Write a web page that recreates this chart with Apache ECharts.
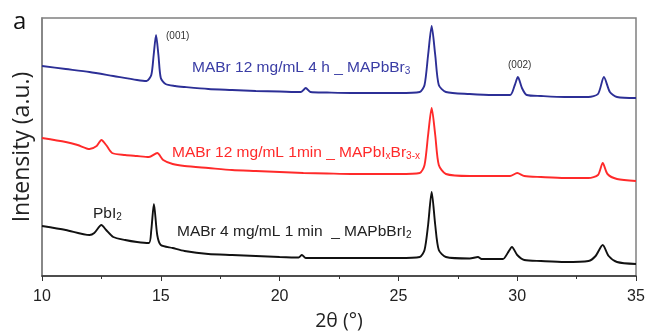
<!DOCTYPE html>
<html><head><meta charset="utf-8">
<script src="https://cdn.jsdelivr.net/npm/echarts@6/dist/echarts.min.js"></script>
<style>html,body{margin:0;padding:0;background:#fff}#c{width:651px;height:333px}</style>
</head><body><div id="c"></div>
<script>
// 2θ positions and intensities (a.u.)
var blueX = [10,11,12,13,14,14.4,14.6,14.7,14.8,14.9,15.0,15.2,15.6,16,17,18,19,20,20.9,21.1,21.3,22,23,24,25,25.9,26.1,26.25,26.4,26.55,26.7,27,28,29,29.7,29.9,30.03,30.2,30.4,31,32,33,33.4,33.65,33.9,34.2,35];
var blueY = [210,207,204,200,196,195,201,221,241,221,198,192,190,189,187,186,185,184.5,184,188,184,183.5,183,183,183,184,191,221,250,221,191,184,182,181,181,191,199,188,181,180,179,179,182,199,184,179,178];
var redX = [10,11,11.5,12,12.3,12.5,12.7,12.95,13.5,14,14.5,14.85,15.1,15.5,16,17,18,19,20,21,22,23,24,25,25.9,26.1,26.25,26.4,26.55,26.7,27,28,29,29.7,30,30.3,31,32,33,33.4,33.6,33.8,34.2,35];
var redY = [138,134,131,127,130,136,131,123,121,120,119,123,116,112,110,108,106,105,104,103,102.5,102,102,102,103,111,141,168,141,111,102,100,100,100,103,100,99,98,98,101,113,102,97,95];
var blackX = [10,11,12,12.2,12.5,12.7,13,13.5,14,14.5,14.6,14.71,14.85,15.0,15.5,16,17,18,19,20,20.8,20.94,21.1,22,23,24,25,25.9,26.1,26.25,26.4,26.55,26.7,27,28,28.35,28.5,29.4,29.6,29.78,30.0,30.3,31,32,33,33.3,33.6,33.85,34.2,35];
var blackY = [50,46,41,43,51,46,39,36,34,33,46,72,41,31,28,25,22,21,20,19,18.5,21,18,18,18,18,18,19,26,51,84,51,26,19,17.5,19,17,17,23,29,21,16,15,14,15,20,31,20,14,12];
var xTicks = [10,15,20,25,30,35];
var seriesNames = ['MABr 12 mg/mL 4 h _ MAPbBr3','MABr 12 mg/mL 1min _ MAPbIxBr3-x','MABr 4 mg/mL 1 min _ MAPbBrI2'];
var annotations = ['(001)','(002)','PbI2','a'];

function pairs(xs, ys){ return xs.map(function(x,i){ return [x, ys[i]]; }); }

var chart = echarts.init(document.getElementById('c'), null, {renderer:'canvas'});
var sans = 'Liberation Sans, Arial, sans-serif';
var open = 'Open Sans, sans-serif';
var BLUE = '#2c2f96', RED = '#ff2a2a', BLACK = '#111111';
function mkLine(name, xs, ys, color){
  return {type:'line', name:name, data:pairs(xs,ys), showSymbol:false, smooth:0.25,
    lineStyle:{color:color, width:1.9}, itemStyle:{color:color}, z:3, animation:false};
}
function rich(color){
  return {n:{fontFamily:sans, fontSize:15.5, fill:color},
          s:{fontFamily:sans, fontSize:10, fill:color, verticalAlign:'bottom', padding:[6,0,0,0]}};
}
chart.setOption({
  animation:false,
  grid:{left:42, right:15, top:18, bottom:57, show:true, borderColor:'#808080', borderWidth:1.5,
    containLabel:false, outerBoundsMode:'none'},
  xAxis:{type:'value', min:xTicks[0], max:xTicks[xTicks.length-1], interval:5,
    name:'2θ (°)', nameLocation:'middle', nameGap:35,
    nameTextStyle:{fontFamily:open, fontSize:19.5, color:'#222'},
    axisLine:{show:true, lineStyle:{color:'#333', width:1.5}},
    axisTick:{show:true, length:5, lineStyle:{color:'#333'}},
    minorTick:{show:true, splitNumber:2, length:3, lineStyle:{color:'#333'}},
    splitLine:{show:false},
    axisLabel:{fontFamily:sans, fontSize:16, color:'#222', margin:13}},
  yAxis:{type:'value', min:0, max:258,
    name:'Intensity (a.u.)', nameLocation:'middle', nameGap:8,
    nameTextStyle:{fontFamily:open, fontSize:23, color:'#222'},
    axisLine:{show:true, lineStyle:{color:'#808080', width:1.5}},
    axisTick:{show:false}, axisLabel:{show:false}, splitLine:{show:false}},
  series:[
    mkLine(seriesNames[0], blueX, blueY, BLUE),
    mkLine(seriesNames[1], redX, redY, RED),
    mkLine(seriesNames[2], blackX, blackY, BLACK)
  ],
  graphic:[
    {type:'text', left:13, top:10, style:{text:annotations[3], fontFamily:open, fontSize:24, fill:'#111'}},
    {type:'text', left:166, top:31, style:{text:annotations[0], fontFamily:sans, fontSize:10, fill:'#333'}},
    {type:'text', left:508, top:60, style:{text:annotations[1], fontFamily:sans, fontSize:10, fill:'#333'}},
    {type:'text', left:192, top:60, style:{text:'{n|MABr 12 mg/mL 4 h _ MAPbBr}{s|3}', rich:rich('#3a3da5')}},
    {type:'text', left:172, top:145, style:{text:'{n|MABr 12 mg/mL 1min _ MAPbI}{s|x}{n|Br}{s|3-x}', rich:rich(RED)}},
    {type:'text', left:177, top:224, style:{text:'{n|MABr 4 mg/mL 1 min  _ MAPbBrI}{s|2}', rich:rich('#222')}},
    {type:'text', left:93, top:206, style:{text:'{n|PbI}{s|2}', rich:rich('#222')}}
  ]
});
</script></body></html>
